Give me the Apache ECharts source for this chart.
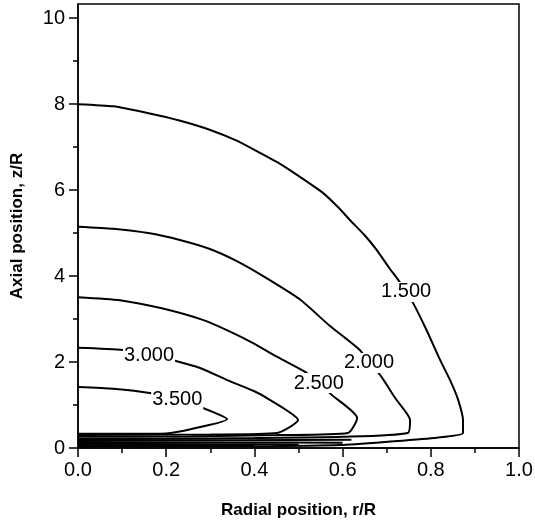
<!DOCTYPE html>
<html>
<head>
<meta charset="utf-8">
<script src="https://cdn.jsdelivr.net/npm/echarts@6/dist/echarts.min.js"></script>
<style>
  html, body { margin: 0; padding: 0; background: #fff; }
  #main { width: 535px; height: 523px; }
</style>
</head>
<body>
<div id="main"></div>
<script>
// axis ticks
var xTicks = [0, 0.2, 0.4, 0.6, 0.8, 1.0];
var xMinor = [0.1, 0.3, 0.5, 0.7, 0.9];
var yTicks = [0, 2, 4, 6, 8, 10];
var yMinor = [1, 3, 5, 7, 9];

// contour lines [r/R, z/R]
var c150 = [[0, 8.0], [0.08, 7.95], [0.16, 7.79], [0.23, 7.62], [0.30, 7.40], [0.36, 7.15], [0.41, 6.88],
  [0.46, 6.6], [0.50, 6.33], [0.556, 5.93], [0.59, 5.6], [0.617, 5.30], [0.65, 4.95], [0.678, 4.60],
  [0.705, 4.2], [0.726, 3.91], [0.744, 3.63], [0.760, 3.37], [0.79, 2.75], [0.821, 2.05], [0.845, 1.55],
  [0.862, 1.12], [0.873, 0.65], [0.873, 0.35], [0.814, 0.24], [0.707, 0.15], [0.594, 0.07], [0.4, 0.04],
  [0.2, 0.035], [0, 0.03]];
var c200 = [[0, 5.15], [0.08, 5.10], [0.159, 5.0], [0.231, 4.84], [0.299, 4.63], [0.36, 4.35], [0.42, 4.0],
  [0.503, 3.46], [0.57, 2.85], [0.639, 2.28], [0.66, 1.98], [0.685, 1.70], [0.72, 1.15], [0.753, 0.65],
  [0.748, 0.35], [0.6, 0.26], [0.4, 0.23], [0.2, 0.215], [0, 0.21]];
var c250 = [[0, 3.51], [0.095, 3.44], [0.19, 3.25], [0.283, 2.98], [0.34, 2.73], [0.397, 2.44], [0.45, 2.13],
  [0.515, 1.77], [0.546, 1.51], [0.576, 1.23], [0.633, 0.70], [0.612, 0.35], [0.451, 0.30], [0.25, 0.27],
  [0, 0.26]];
var c300 = [[0, 2.33], [0.102, 2.28], [0.161, 2.16], [0.224, 2.02], [0.277, 1.86], [0.338, 1.58], [0.40, 1.32],
  [0.435, 1.12], [0.499, 0.65], [0.451, 0.35], [0.3, 0.315], [0, 0.30]];
var c350 = [[0, 1.42], [0.08, 1.38], [0.163, 1.28], [0.225, 1.12], [0.283, 0.93], [0.338, 0.67], [0.26, 0.45],
  [0.2, 0.34], [0.1, 0.33], [0, 0.33]];
var low1 = [[0, 0.18], [0.35, 0.18], [0.62, 0.19]];
var low2 = [[0, 0.14], [0.35, 0.13], [0.6, 0.12]];
var low3 = [[0, 0.10], [0.3, 0.09], [0.5, 0.08]];
var low4 = [[0, 0.07], [0.25, 0.06], [0.4, 0.05]];

var contourLabels = [[0.744, 3.63, '1.500'], [0.660, 1.98, '2.000'], [0.546, 1.51, '2.500'],
  [0.161, 2.16, '3.000'], [0.225, 1.12, '3.500']];

var font = 'Liberation Sans, Arial, sans-serif';
var chart = echarts.init(document.getElementById('main'));

var lines = [c150, c200, c250, c300, c350, low1, low2, low3, low4];
var series = lines.map(function (d) {
  return {
    type: 'line', data: d, symbol: 'none', silent: true, smooth: 0.2,
    lineStyle: { color: '#000', width: 2 }, z: 2
  };
});
series.push({
  type: 'scatter', data: contourLabels, symbolSize: 0, silent: true, z: 5,
  itemStyle: { color: '#000', opacity: 1 },
  label: {
    show: true, position: 'inside', color: '#000', fontSize: 20, fontFamily: font, opacity: 1,
    textBorderWidth: 0, backgroundColor: '#fff', padding: [0, 1],
    formatter: function (p) { return p.data[2]; }
  }
});

var option = {
  animation: false,
  grid: { left: 78, right: 16, top: 4, bottom: 75, show: true, borderColor: '#000', borderWidth: 1.5, outerBoundsMode: 'none' },
  xAxis: [{
    type: 'value', min: 0, max: 1,
    name: 'Radial position, r/R', nameLocation: 'middle', nameGap: 54,
    nameTextStyle: { fontSize: 17, fontWeight: 'bold', color: '#000', fontFamily: font },
    axisLine: { lineStyle: { color: '#000', width: 1.5 } },
    axisTick: { customValues: xTicks, length: 9, lineStyle: { color: '#000', width: 1.5 } },
    axisLabel: { customValues: xTicks, fontSize: 20, color: '#000', margin: 12, fontFamily: font,
      formatter: function (v) { return v.toFixed(1); } },
    splitLine: { show: false }
  }, {
    type: 'value', min: 0, max: 1, position: 'bottom',
    axisLine: { show: false },
    axisTick: { customValues: xMinor, length: 5, lineStyle: { color: '#000', width: 1.5 } },
    axisLabel: { show: false }, splitLine: { show: false }
  }],
  yAxis: [{
    type: 'value', min: 0, max: 10.33,
    name: 'Axial position, z/R', nameLocation: 'middle', nameGap: 52,
    nameTextStyle: { fontSize: 17, fontWeight: 'bold', color: '#000', fontFamily: font },
    axisLine: { lineStyle: { color: '#000', width: 1.5 } },
    axisTick: { customValues: yTicks, length: 9, lineStyle: { color: '#000', width: 1.5 } },
    axisLabel: { customValues: yTicks, fontSize: 20, color: '#000', margin: 13, fontFamily: font },
    splitLine: { show: false }
  }, {
    type: 'value', min: 0, max: 10.33, position: 'left',
    axisLine: { show: false },
    axisTick: { customValues: yMinor, length: 5, lineStyle: { color: '#000', width: 1.5 } },
    axisLabel: { show: false }, splitLine: { show: false }
  }],
  series: series
};

chart.setOption(option);
</script>
</body>
</html>
